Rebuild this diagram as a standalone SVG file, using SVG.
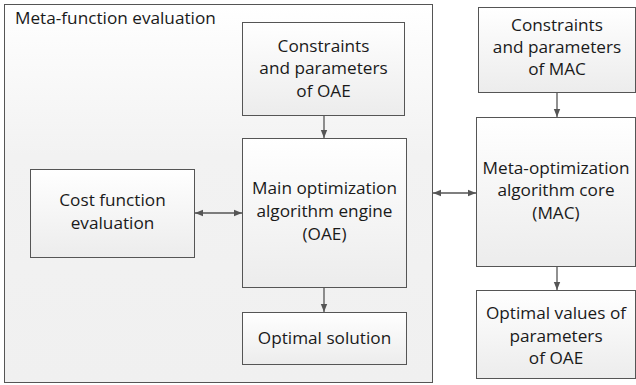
<svg xmlns="http://www.w3.org/2000/svg" width="636" height="385" viewBox="0 0 636 385">
<defs>
<linearGradient id="g" x1="0" y1="0" x2="0" y2="1">
<stop offset="0" stop-color="#ffffff"/>
<stop offset="1" stop-color="#ececec"/>
</linearGradient>
<linearGradient id="go" x1="0" y1="0" x2="0" y2="1">
<stop offset="0" stop-color="#ffffff"/>
<stop offset="0.4" stop-color="#f2f2f2"/>
<stop offset="1" stop-color="#f0f0f0"/>
</linearGradient>
<marker id="a" viewBox="0 0 10 10" refX="10" refY="5" markerWidth="8" markerHeight="8" orient="auto-start-reverse" markerUnits="userSpaceOnUse">
<path d="M0,1 L10,5 L0,9 Z" fill="#555"/>
</marker>
</defs>
<style>
.b{fill:url(#g);stroke:#555;stroke-width:1}
.o{fill:url(#go);stroke:#555;stroke-width:1}
text{font-family:"Open Sans","Liberation Sans",Arial,sans-serif;font-size:17.2px;fill:#1a1a1a;text-anchor:middle}
.c{stroke:#555;stroke-width:1.3;fill:none}
</style>
<rect width="636" height="385" fill="#fff"/>
<g id="meta">
<rect class="o" x="4.5" y="4.5" width="428" height="378"/>
<text x="15" y="24" style="text-anchor:start">Meta-function evaluation</text>
</g>
<g id="consOAE">
<rect class="b" x="242.5" y="22.5" width="162" height="93"/>
<text x="323.5" y="52">Constraints</text>
<text x="323.5" y="74">and parameters</text>
<text x="323.5" y="97">of OAE</text>
</g>
<g id="oae">
<rect class="b" x="242.5" y="138.5" width="164" height="149"/>
<text x="324.5" y="194">Main optimization</text>
<text x="324.5" y="217">algorithm engine</text>
<text x="324.5" y="240">(OAE)</text>
</g>
<g id="cost">
<rect class="b" x="30.5" y="169.5" width="164" height="88"/>
<text x="112.5" y="206">Cost function</text>
<text x="112.5" y="229">evaluation</text>
</g>
<g id="optsol">
<rect class="b" x="242.5" y="312.5" width="164" height="52"/>
<text x="324.5" y="344">Optimal solution</text>
</g>
<g id="consMAC">
<rect class="b" x="478.5" y="7.5" width="157" height="85"/>
<text x="557" y="31">Constraints</text>
<text x="557" y="53">and parameters</text>
<text x="557" y="75">of MAC</text>
</g>
<g id="mac">
<rect class="b" x="476.5" y="117.5" width="159" height="149"/>
<text x="556" y="174">Meta-optimization</text>
<text x="556" y="196">algorithm core</text>
<text x="556" y="219">(MAC)</text>
</g>
<g id="optval">
<rect class="b" x="476.5" y="290.5" width="159" height="88"/>
<text x="556" y="319">Optimal values of</text>
<text x="556" y="342">parameters</text>
<text x="556" y="364">of OAE</text>
</g>
<g id="connectors">
<line class="c" x1="324" y1="116" x2="324" y2="138" marker-end="url(#a)"/>
<line class="c" x1="324" y1="288" x2="324" y2="312" marker-end="url(#a)"/>
<line class="c" x1="195" y1="213" x2="242" y2="213" marker-start="url(#a)" marker-end="url(#a)"/>
<line class="c" x1="433" y1="193" x2="476" y2="193" marker-start="url(#a)" marker-end="url(#a)"/>
<line class="c" x1="557" y1="93" x2="557" y2="117" marker-end="url(#a)"/>
<line class="c" x1="557" y1="267" x2="557" y2="290" marker-end="url(#a)"/>
</g>
</svg>
